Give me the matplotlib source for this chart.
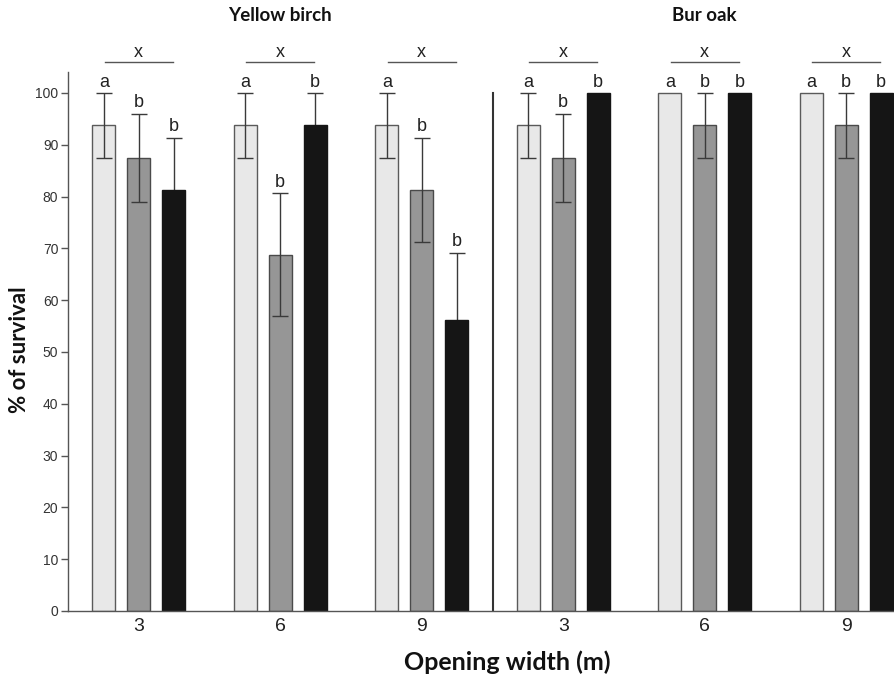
import matplotlib
matplotlib.use('Agg')
import matplotlib.pyplot as plt
import numpy as np

# data (% survival, mean and SE)
species = ['Yellow birch', 'Bur oak']
widths = ['3', '6', '9', '3', '6', '9']

light_mean = [93.75, 93.75, 93.75, 93.75, 100.0, 100.0]
light_err = [6.25, 6.25, 6.25, 6.25, 0.0, 0.0]
gray_mean = [87.5, 68.75, 81.25, 87.5, 93.75, 93.75]
gray_err = [8.5, 11.9, 10.1, 8.5, 6.25, 6.25]
black_mean = [81.25, 93.75, 56.25, 100.0, 100.0, 100.0]
black_err = [10.1, 6.25, 12.9, 0.0, 0.0, 0.0]

light_letters = ['a', 'a', 'a', 'a', 'a', 'a']
gray_letters = ['b', 'b', 'b', 'b', 'b', 'b']
black_letters = ['b', 'b', 'b', 'b', 'b', 'b']
group_letters = ['x', 'x', 'x', 'x', 'x', 'x']

plt.rcParams['font.family'] = ['Liberation Sans', 'DejaVu Sans']

fig = plt.figure(figsize=(8.95, 6.76), dpi=100)
ax = fig.add_axes([0.076, 0.0962, 0.9486, 0.797])

x = np.arange(len(widths))
off = 0.247
bw = 0.163

# (means, errors, letters, offset, face, edge, errorbar zorder)
series = [
    (light_mean, light_err, light_letters, -off, '#e8e8e8', '#5a5a5a', 3),
    (gray_mean, gray_err, gray_letters, 0.0, '#969696', '#4a4a4a', 3),
    (black_mean, black_err, black_letters, off, '#151515', '#151515', 1),
]

for mean, err, letters, dx, fc, ec, ez in series:
    xs = x + dx
    ax.bar(xs, mean, width=bw, color=fc, edgecolor=ec, linewidth=1.0, zorder=2)
    for xi, m, e, lt in zip(xs, mean, err, letters):
        if e > 0:
            ax.errorbar(xi, m, yerr=e, fmt='none', ecolor='#3a3a3a',
                        elinewidth=1.0, capsize=5.5, capthick=1.0, zorder=ez)
        top = min(m + e, 100) if e > 0 else m
        ax.annotate(lt, (xi, top), xytext=(0, 4.5), textcoords='offset points',
                    ha='center', va='baseline', fontsize=13, color='#222222',
                    annotation_clip=False)

# group brackets
for xi, lt in zip(x, group_letters):
    ax.plot([xi - 0.24, xi + 0.24], [106, 106], color='#555555', lw=1.0,
            clip_on=False)
    ax.annotate(lt, (xi, 106), xytext=(0, 3.5), textcoords='offset points',
                ha='center', va='baseline', fontsize=13, color='#222222',
                annotation_clip=False)

# species titles
ax.text(1, 115, species[0], ha='center', va='center', fontsize=13.5,
        fontweight='bold', family=['Lato', 'DejaVu Sans'], color='#111111')
ax.text(4, 115, species[1], ha='center', va='center', fontsize=13.5,
        fontweight='bold', family=['Lato', 'DejaVu Sans'], color='#111111')

# separator between species
ax.plot([2.5, 2.5], [0, 100], color='#333333', lw=1.5, zorder=1)

ax.set_xlim(-0.5, 5.5)
ax.set_ylim(0, 104)
ax.set_yticks(np.arange(0, 101, 10))
ax.set_xticks(x)
ax.set_xticklabels(widths)
ax.tick_params(axis='y', length=5, width=1, color='#555555', labelsize=10,
               labelcolor='#333333', pad=2)
ax.tick_params(axis='x', length=0, labelsize=14, labelcolor='#222222', pad=5)

for s in ['top', 'right']:
    ax.spines[s].set_visible(False)
for s in ['left', 'bottom']:
    ax.spines[s].set_color('#555555')
    ax.spines[s].set_linewidth(1.0)

fig.text(0.022, 0.482, '% of survival', rotation=90, ha='center', va='center',
         fontsize=16, fontweight='bold', family=['Lato', 'DejaVu Sans'],
         color='#111111')
fig.text(0.567, 0.021, 'Opening width (m)', ha='center', va='center',
         fontsize=18, fontweight='bold', family=['Lato', 'DejaVu Sans'],
         color='#111111')

fig.savefig('out.png', dpi=100)
